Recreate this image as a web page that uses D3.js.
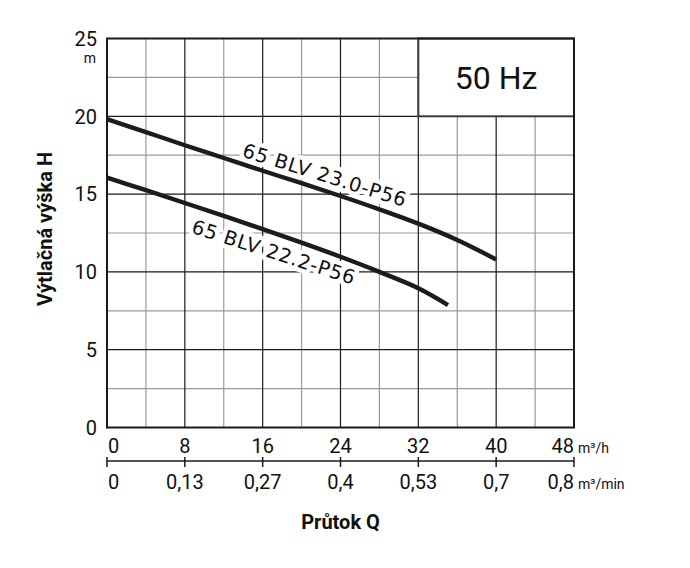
<!DOCTYPE html>
<html><head><meta charset="utf-8">
<script src="https://cdn.jsdelivr.net/npm/d3@7"></script>
<style>body{margin:0;background:#fff}svg{display:block}</style>
</head><body>
<svg id="c" width="690" height="568"></svg>
<script>
// Data
const flowTicks = [0, 8, 16, 24, 32, 40, 48];              // m³/h
const flowMinLabels = ["0", "0,13", "0,27", "0,4", "0,53", "0,7", "0,8"]; // m³/min
const headTicks = [0, 5, 10, 15, 20, 25];
const seriesNames = ["65 BLV 23.0-P56", "65 BLV 22.2-P56"];
const q230 = [0, 4, 8, 12, 16, 20, 24, 28, 32, 36, 40];
const h230 = [19.82, 18.98, 18.14, 17.32, 16.5, 15.7, 14.88, 14.02, 13.1, 12.05, 10.8];
const q222 = [0, 4, 8, 12, 16, 20, 24, 28, 32, 35.05];
const h222 = [16.06, 15.25, 14.43, 13.6, 12.75, 11.88, 10.97, 10.0, 8.95, 7.87];
const freqLabel = "50 Hz";

const svg = d3.select("#c");
const x = d3.scaleLinear().domain([0, 48]).range([107, 574]);
const y = d3.scaleLinear().domain([0, 25]).range([427.5, 38.5]);
const F = "Roboto, 'Liberation Sans', sans-serif";

// grid
const g = svg.append("g");
const minorX = d3.range(4, 48, 8), majorX = d3.range(8, 48, 8);
const minorY = d3.range(2.5, 25, 5), majorY = d3.range(5, 25, 5);
g.selectAll(".mx").data(minorX).join("line")
  .attr("x1", d => x(d)).attr("x2", d => x(d)).attr("y1", y(0)).attr("y2", y(25))
  .attr("stroke", "#9a9a9a").attr("stroke-width", 1.2);
g.selectAll(".my").data(minorY).join("line")
  .attr("y1", d => y(d)).attr("y2", d => y(d)).attr("x1", x(0)).attr("x2", x(48))
  .attr("stroke", "#9a9a9a").attr("stroke-width", 1.2);
g.selectAll(".Mx").data(majorX).join("line")
  .attr("x1", d => x(d)).attr("x2", d => x(d)).attr("y1", y(0)).attr("y2", y(25))
  .attr("stroke", "#1a1a1a").attr("stroke-width", 1.2);
g.selectAll(".My").data(majorY).join("line")
  .attr("y1", d => y(d)).attr("y2", d => y(d)).attr("x1", x(0)).attr("x2", x(48))
  .attr("stroke", "#1a1a1a").attr("stroke-width", 1.2);

// 50 Hz box
svg.append("rect").attr("x", x(32)).attr("y", y(25)).attr("width", x(48) - x(32)).attr("height", y(20) - y(25))
  .attr("fill", "#fff").attr("stroke", "#3a3a3a").attr("stroke-width", 2);
svg.append("text").attr("x", (x(32) + x(48)) / 2).attr("y", (y(25) + y(20)) / 2 + 11.5)
  .attr("text-anchor", "middle").attr("font-family", F).attr("font-size", 32).attr("fill", "#111").text(freqLabel);

// curve labels (white halo copy underneath, then the text)
const LF = "'DejaVu Sans', sans-serif";
function curveLabel(txt, cx, cy, ang) {
  const gg = svg.append("g").attr("transform", `translate(${cx},${cy}) rotate(${ang})`);
  const mk = () => gg.append("text").attr("text-anchor", "middle").attr("font-family", LF)
    .attr("font-size", 19.5).attr("textLength", 170).attr("lengthAdjust", "spacing").text(txt);
  mk().attr("fill", "#fff").attr("stroke", "#fff").attr("stroke-width", 9).attr("stroke-linejoin", "round");
  mk().attr("fill", "#111");
}
curveLabel(seriesNames[0], 322.5, 181.5, 17.3);
curveLabel(seriesNames[1], 271.5, 258.5, 17.8);

// curves
const line = d3.line().x(d => x(d[0])).y(d => y(d[1])).curve(d3.curveCatmullRom.alpha(0.5));
[[q230, h230], [q222, h222]].forEach(([qs, hs]) => {
  svg.append("path").datum(qs.map((q, i) => [q, hs[i]])).attr("d", line)
    .attr("fill", "none").attr("stroke", "#1c1c1c").attr("stroke-width", 4.4);
});

// border
svg.append("rect").attr("x", x(0)).attr("y", y(25)).attr("width", x(48) - x(0)).attr("height", y(0) - y(25))
  .attr("fill", "none").attr("stroke", "#1a1a1a").attr("stroke-width", 2);

// y axis labels
svg.selectAll(".yl").data(headTicks).join("text")
  .attr("x", 97).attr("y", d => y(d) + 7.3).attr("text-anchor", "end")
  .attr("font-family", F).attr("font-size", 20).attr("fill", "#111").text(d => d);
svg.append("text").attr("x", 96).attr("y", 62.5).attr("text-anchor", "end")
  .attr("font-family", F).attr("font-size", 14).attr("fill", "#111").text("m");

// x axis (m³/h)
const anchorFor = (i, n) => i === 0 ? "start" : (i === n - 1 ? "end" : "middle");
svg.selectAll(".xl").data(flowTicks).join("text")
  .attr("x", (d, i) => i === 0 ? x(d) + 1 : x(d)).attr("y", 452.5)
  .attr("text-anchor", (d, i) => anchorFor(i, flowTicks.length))
  .attr("font-family", F).attr("font-size", 20).attr("fill", "#111").text(d => d);
svg.append("text").attr("x", 578).attr("y", 452.5).attr("font-family", F).attr("font-size", 14).attr("fill", "#111").text("m³/h");

// second axis (m³/min)
svg.append("line").attr("x1", x(0)).attr("x2", x(48)).attr("y1", 461).attr("y2", 461).attr("stroke", "#1a1a1a").attr("stroke-width", 1.5);
svg.selectAll(".xt").data(flowTicks).join("line")
  .attr("x1", d => x(d)).attr("x2", d => x(d)).attr("y1", 457).attr("y2", 467)
  .attr("stroke", "#1a1a1a").attr("stroke-width", 1.5);
svg.selectAll(".xl2").data(flowMinLabels).join("text")
  .attr("x", (d, i) => i === 0 ? x(flowTicks[i]) + 1 : x(flowTicks[i])).attr("y", 488.5)
  .attr("text-anchor", (d, i) => anchorFor(i, flowMinLabels.length))
  .attr("font-family", F).attr("font-size", 20).attr("fill", "#111").text(d => d);
svg.append("text").attr("x", 578).attr("y", 488.5).attr("font-family", F).attr("font-size", 14).attr("fill", "#111").text("m³/min");

// titles
svg.append("text").attr("x", (x(0) + x(48)) / 2).attr("y", 529).attr("text-anchor", "middle")
  .attr("font-family", F).attr("font-weight", "bold").attr("font-size", 20).attr("fill", "#111").text("Průtok Q");
svg.append("text").attr("transform", "translate(52,229) rotate(-90)").attr("text-anchor", "middle")
  .attr("font-family", F).attr("font-weight", "bold").attr("font-size", 20).attr("fill", "#111").text("Výtlačná výška H");
</script>
</body></html>
